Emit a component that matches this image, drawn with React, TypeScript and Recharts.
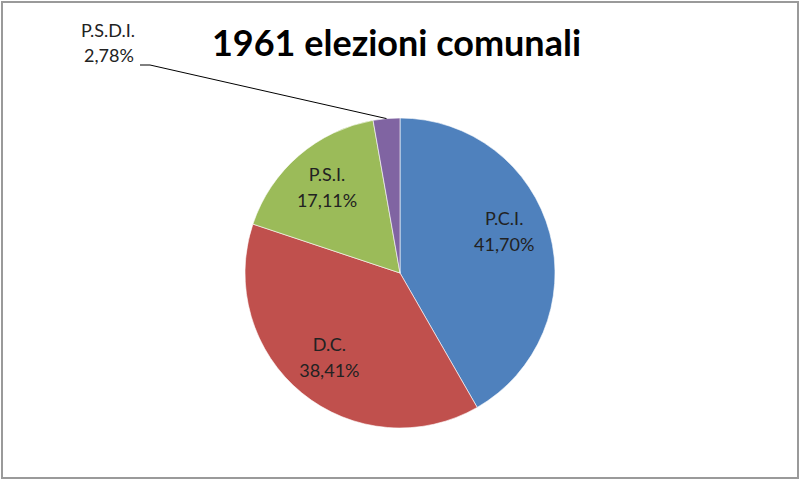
import React from "react";
import { PieChart, Pie, Cell } from "recharts";

const parties = ["P.C.I.", "D.C.", "P.S.I.", "P.S.D.I."];
const shares = [41.7, 38.41, 17.11, 2.78];
const colors = ["#4F81BD", "#C0504D", "#9BBB59", "#8064A2"];

const data = parties.map((name, i) => ({ name, value: shares[i] }));

const RAD = Math.PI / 180;
const fmt = (v: number) => v.toFixed(2).replace(".", ",") + "%";
const labelFont = "Lato, sans-serif";

const renderLabel = (props: any) => {
  const { cx, cy, midAngle, outerRadius, index, value } = props;
  const name = parties[index];
  if (value < 5) {
    // small slice: label pulled out to the upper left with a leader line
    const sx = cx + outerRadius * Math.cos(-midAngle * RAD);
    const sy = cy + outerRadius * Math.sin(-midAngle * RAD);
    const ex = cx - 250;
    const ey = cy - 208;
    return (
      <g key={`lbl-${index}`}>
        <polyline
          points={`${sx},${sy} ${ex},${ey} ${ex - 10},${ey}`}
          fill="none"
          stroke="#000"
          strokeWidth={1}
        />
        <text x={ex - 42} y={ey - 28} textAnchor="middle" fill="#222" fontSize={18} fontFamily={labelFont}>
          {name}
        </text>
        <text x={ex - 41} y={ey - 3} textAnchor="middle" fill="#222" fontSize={18} fontFamily={labelFont}>
          {fmt(value)}
        </text>
      </g>
    );
  }
  const r = outerRadius * 0.72;
  const ang = index === 0 ? midAngle + 6 : midAngle;
  const x = cx + r * Math.cos(-ang * RAD);
  const y = cy + r * Math.sin(-ang * RAD);
  return (
    <g key={`lbl-${index}`}>
      <text x={x} y={y - 8} textAnchor="middle" fill="#222" fontSize={18} fontFamily={labelFont}>
        {name}
      </text>
      <text x={x} y={y + 18} textAnchor="middle" fill="#222" fontSize={18} fontFamily={labelFont}>
        {fmt(value)}
      </text>
    </g>
  );
};

export default function App() {
  return (
    <div
      style={{
        position: "absolute",
        left: 0,
        top: 0,
        width: 800,
        height: 481,
        background: "#fff",
      }}
    >
      <div
        style={{
          position: "absolute",
          left: 1,
          top: 1,
          width: 798,
          height: 478,
          boxSizing: "border-box",
          border: "2px solid #9a9a9a",
        }}
      />
      <div
        style={{
          position: "absolute",
          left: 0,
          width: 800,
          top: 20,
          textAlign: "center",
          fontFamily: "Lato, sans-serif",
          fontWeight: 700,
          fontSize: 36,
          color: "#000",
          lineHeight: "44px",
        }}
      >
        <span style={{ marginLeft: -7 }}>1961 elezioni comunali</span>
      </div>
      <PieChart
        width={800}
        height={481}
        margin={{ top: 0, right: 0, bottom: 0, left: 0 }}
        style={{ position: "absolute", left: 0, top: 0 }}
      >
        <Pie
          data={data}
          dataKey="value"
          nameKey="name"
          cx={400}
          cy={273}
          outerRadius={155}
          startAngle={90}
          endAngle={-270}
          stroke="#fff"
          strokeWidth={0.6}
          label={renderLabel}
          labelLine={false}
          isAnimationActive={false}
        >
          {data.map((d, i) => (
            <Cell key={d.name} fill={colors[i]} />
          ))}
        </Pie>
      </PieChart>
    </div>
  );
}
